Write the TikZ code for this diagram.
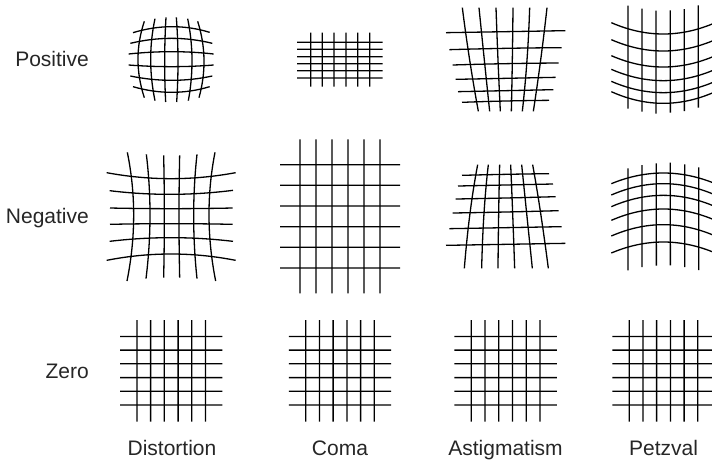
\documentclass[tikz,border=0pt]{standalone}
\usepackage{fontspec}
\setmainfont{Liberation Sans}
\usetikzlibrary{calc}
\tikzset{
  gridline/.style={line width=1.3pt,black},
  rowlabel/.style={anchor=base east,inner sep=0pt,font=\fontsize{21}{25}\selectfont,text=black!85},
  collabel/.style={anchor=base,inner sep=0pt,font=\fontsize{21}{25}\selectfont,text=black!85},
}
% three-point curves, read off in a 3x frame
\newcommand{\warpgrid}[3]{%
  \begin{scope}[shift={(#1,#2)},scale=1/3]
    \foreach \ax/\ay/\mx/\my/\bx/\by in {#3} {
      \coordinate (start) at (\ax,\ay);
      \coordinate (finish) at (\bx,\by);
      \coordinate (peak) at ({2*\mx-(\ax+\bx)/2},{2*\my-(\ay+\by)/2});
      \draw[gridline] (start) .. controls ($(start)!2/3!(peak)$) and ($(finish)!2/3!(peak)$) .. (finish);
    }
  \end{scope}}
% the .03 keeps the widths even
\newcommand{\plaingrid}[1]{%
  \foreach \off in {-34.3,-20.6,-6.9,6.9,20.6,34.3} {
    \draw[gridline] (#1+\off,320) -- (#1+\off+.03,421.7);
    \draw[gridline] (#1-51.2,370.7+\off) -- (#1+51.2,370.7+\off+.03);
  }}
\begin{document}
\begin{tikzpicture}[x=1pt,y=-1pt]
\useasboundingbox (0,0) rectangle (712,459);
\clip (0,0) rectangle (712,459);
% positive row
\warpgrid{100}{0}{
  133/64/114/178/133/293, 165/56/152/178/165/302, 198/52/194/178/197/306,
  229/52/234/178/230/306, 263/56/276/178/265/302, 293/64/312/178/297/293,
  99/98/215/80/329/97, 91/130/215/115/337/130, 86/162/215/155/341/162,
  86/195/215/200/341/195, 91/228/215/241/337/228, 99/260/215/277/329/260}
\foreach \px in {310.7,322.3,334,346,357.7,369.7}
  \draw[gridline] (\px,32.7) -- (\px+.03,86.7);
\foreach \py in {42.3,49.3,56.7,63.7,70.7,78}
  \draw[gridline] (297,\py) -- (382.7,\py+.03);
\warpgrid{420}{0}{
  127/23/149/180/175/334, 177/23/193/180/209/334, 228/23/234/180/241/334,
  279/23/277/180/274/334, 329/23/321/180/307/334, 381/23/362/180/340/334,
  78/98/257/95/436/92, 88/149/257/145/425/143, 98/195/257/191/416/189,
  107/238/257/235/407/232, 114/275/257/272/400/269, 126/307/257/303/387/301}
\warpgrid{420}{0}{
  624/17/624/170/624.1/326, 666/26/666/180/666.1/335, 708/32/708/186/708.1/341,
  751/31/751/185/751.1/338, 793/27/793/180/793.1/333, 835/16/835/170/835.1/323,
  574/68/730/102/886/68, 574/119/730/153/886/119, 574/167/730/201/886/167,
  574/208/730/242/886/208, 574/244/730/278/886/244, 574/275/730/310/886/275}
% negative row
\warpgrid{95}{130}{
  97/67/116/258/96/453, 154/73/165/258/153/446, 206/76/208/258/206/443,
  254/76/252/258/254/443, 306/73/296/258/306/446, 360/67/342/258/362/453,
  35/128/228/146/422/128, 44/182/228/193/414/181, 45/234/228/236/413/234,
  45/283/228/281/413/283, 44/334/228/323/414/334, 35/391/228/372/422/391}
\foreach \px in {300,316,332,348,364,380}
  \draw[gridline] (\px,139.3) -- (\px+.03,293.3);
\foreach \py in {164.7,185.3,206,226.7,247.3,268}
  \draw[gridline] (280,\py) -- (400,\py+.03);
\warpgrid{420}{140}{
  173/74/150/220/133/385, 205/74/192/220/185/385, 239/74/236/220/234/385,
  272/74/278/220/284/385, 305/74/320/220/337/385, 338/74/362/220/385/385,
  126/106/257/103/387/101, 114/138/257/135/399/132, 107/177/257/174/407/170,
  98/219/257/216/416/212, 88/266/257/263/425/260, 78/316/257/313/436/310}
\warpgrid{420}{140}{
  624/85/624/238/624.1/391, 666/75/666/228/666.1/381, 709/70/709/223/709.1/377,
  751/68/751/222/751.1/376, 794/73/794/227/794.1/381, 836/82/836/236/836.1/390,
  574/131/730/99/886/131, 574/165/730/131/886/165, 574/200/730/166/886/200,
  574/241/730/207/886/241, 574/288/730/254/886/288, 574/339/730/306/886/339}
% zero row
\plaingrid{171.2}
\plaingrid{340}
\plaingrid{505.6}
\plaingrid{663.5}
% labels
\node[rowlabel] (positive) at (89,66) {Positive};
\node[rowlabel] (negative) at (89,223) {Negative};
\node[rowlabel] (zero) at (89,378) {Zero};
\node[collabel] (distortion) at (172,455) {Distortion};
\node[collabel] (coma) at (340,455) {Coma};
\node[collabel] (astigmatism) at (505.5,455) {Astigmatism};
\node[collabel] (petzval) at (663.5,455) {Petzval};
\end{tikzpicture}
\end{document}
